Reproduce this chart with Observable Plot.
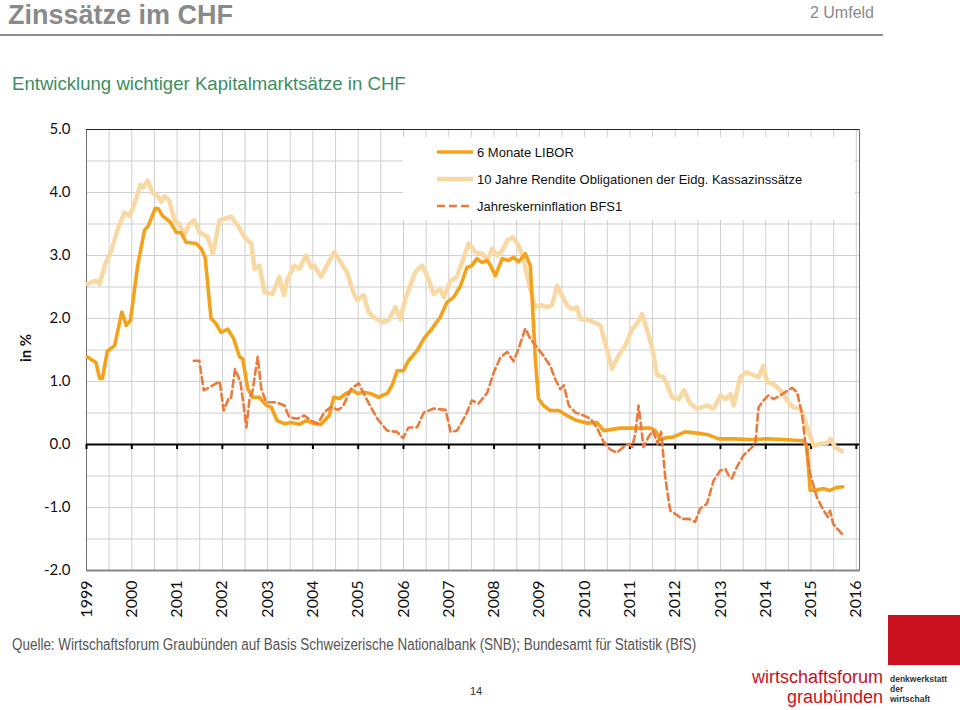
<!DOCTYPE html>
<html><head><meta charset="utf-8">
<script src="https://cdn.jsdelivr.net/npm/d3@7"></script>
<script src="https://cdn.jsdelivr.net/npm/@observablehq/plot@0.6"></script>
<style>
body{margin:0;background:#fff;}
#page{position:relative;width:960px;height:710px;overflow:hidden;font-family:"Liberation Sans",Arial,sans-serif;background:#fff;}
.abs{position:absolute;white-space:nowrap;}
#title{left:8px;top:0px;font-size:27px;line-height:30px;font-weight:bold;color:#8a8a8a;}
#section{right:86px;top:4px;font-size:16px;line-height:18px;color:#8a8a8a;}
#hr{left:0;top:34px;width:883px;height:2px;background:#8f8f8f;}
#subtitle{left:12px;top:72px;font-size:18.6px;line-height:24px;color:#3b8f5f;}
#chart{left:0;top:100px;}
#ylab{left:25px;top:348px;transform:translate(-50%,-50%) rotate(-90deg);font-family:Lato,"Open Sans",sans-serif;font-weight:bold;font-size:15px;color:#111;}
#legend{left:403px;top:137px;width:452px;height:83px;background:#fff;font-size:13px;color:#111;}
.lrow{position:absolute;left:34px;height:20px;display:flex;align-items:center;}
.lrow svg{margin-right:4px;}
#source{left:12px;top:636px;font-size:16px;line-height:18px;color:#555;transform:scaleX(0.84);transform-origin:0 0;}
#pnum{left:470px;top:685px;font-size:11px;color:#333;}
#redbox{left:888px;top:615px;width:72px;height:50px;background:#c8101e;}
#logo{right:77px;top:667px;font-size:18px;line-height:20px;color:#c8101e;text-align:right;}
#logo3{left:890px;top:674px;font-size:8.5px;line-height:10px;color:#333;font-weight:bold;}
</style></head>
<body><div id="page">
<div class="abs" id="title">Zinssätze im CHF</div>
<div class="abs" id="section">2 Umfeld</div>
<div class="abs" id="hr"></div>
<div class="abs" id="subtitle">Entwicklung wichtiger Kapitalmarktsätze in CHF</div>
<div class="abs" id="chart"></div>
<div class="abs" id="ylab">in %</div>
<div class="abs" id="legend"></div>
<div class="abs" id="source">Quelle: Wirtschaftsforum Graubünden auf Basis Schweizerische Nationalbank (SNB); Bundesamt für Statistik (BfS)</div>
<div class="abs" id="pnum">14</div>
<div class="abs" id="redbox"></div>
<div class="abs" id="logo">wirtschaftsforum<br>graubünden</div>
<div class="abs" id="logo3">denkwerkstatt<br>der<br>wirtschaft</div>
</div>
<script>
// ---- Data (decimal years, percent) ----
const seriesNames = ["6 Monate LIBOR", "10 Jahre Rendite Obligationen der Eidg. Kassazinssätze", "Jahreskerninflation BFS1"];

const liborYears = [1999.02,1999.21,1999.29,1999.35,1999.46,1999.62,1999.78,1999.88,1999.97,2000.13,2000.28,2000.37,2000.52,2000.59,2000.68,2000.85,2000.98,2001.09,2001.20,2001.42,2001.53,2001.62,2001.75,2001.86,2001.97,2002.12,2002.25,2002.38,2002.45,2002.56,2002.67,2002.82,2002.97,2003.08,2003.21,2003.37,2003.52,2003.70,2003.85,2004.03,2004.18,2004.36,2004.46,2004.59,2004.73,2004.88,2004.98,2005.12,2005.27,2005.45,2005.64,2005.75,2005.86,2006.00,2006.11,2006.30,2006.45,2006.63,2006.81,2006.96,2007.11,2007.26,2007.40,2007.51,2007.62,2007.74,2007.85,2007.92,2008.03,2008.18,2008.32,2008.43,2008.54,2008.69,2008.80,2008.84,2008.91,2008.98,2009.09,2009.24,2009.43,2009.61,2009.83,2010.05,2010.27,2010.42,2010.79,2011.08,2011.45,2011.56,2011.67,2011.82,2011.96,2012.22,2012.48,2012.70,2012.96,2013.29,2013.66,2014.03,2014.39,2014.83,2014.91,2014.98,2015.13,2015.28,2015.42,2015.57,2015.70];
const liborValues = [1.39,1.30,1.05,1.05,1.48,1.57,2.10,1.89,1.97,2.84,3.40,3.48,3.75,3.74,3.63,3.53,3.37,3.36,3.21,3.19,3.11,2.97,2.00,1.92,1.78,1.83,1.68,1.39,1.36,0.89,0.75,0.75,0.62,0.59,0.38,0.33,0.35,0.32,0.38,0.33,0.32,0.46,0.75,0.73,0.81,0.86,0.81,0.83,0.81,0.75,0.81,0.94,1.17,1.17,1.33,1.49,1.68,1.84,2.02,2.26,2.34,2.52,2.81,2.84,2.95,2.89,2.92,2.84,2.68,2.95,2.92,2.97,2.90,3.03,2.84,2.32,1.37,0.73,0.62,0.54,0.54,0.46,0.38,0.34,0.35,0.22,0.26,0.26,0.26,0.22,0.08,0.11,0.12,0.20,0.18,0.16,0.09,0.09,0.08,0.09,0.08,0.06,-0.04,-0.73,-0.72,-0.70,-0.73,-0.68,-0.67];

const bondYears = [1999.02,1999.21,1999.29,1999.40,1999.55,1999.69,1999.84,1999.95,2000.06,2000.19,2000.26,2000.35,2000.46,2000.57,2000.65,2000.72,2000.83,2000.94,2001.05,2001.16,2001.27,2001.38,2001.49,2001.68,2001.79,2001.94,2002.05,2002.19,2002.34,2002.49,2002.64,2002.71,2002.82,2002.93,2003.11,2003.26,2003.36,2003.44,2003.59,2003.70,2003.85,2003.96,2004.03,2004.18,2004.33,2004.47,2004.66,2004.77,2004.83,2004.90,2004.98,2005.12,2005.23,2005.34,2005.53,2005.67,2005.82,2005.93,2006.04,2006.26,2006.41,2006.52,2006.67,2006.81,2006.89,2007.04,2007.18,2007.29,2007.44,2007.59,2007.74,2007.85,2007.96,2008.07,2008.18,2008.29,2008.42,2008.54,2008.65,2008.73,2008.80,2008.91,2009.06,2009.17,2009.28,2009.39,2009.46,2009.61,2009.72,2009.83,2009.91,2010.05,2010.20,2010.35,2010.49,2010.60,2010.75,2010.90,2011.05,2011.16,2011.27,2011.38,2011.49,2011.60,2011.74,2011.82,2011.93,2012.08,2012.19,2012.33,2012.48,2012.59,2012.70,2012.85,2013.00,2013.11,2013.22,2013.29,2013.44,2013.58,2013.73,2013.84,2013.95,2014.03,2014.17,2014.32,2014.47,2014.61,2014.76,2014.87,2014.94,2015.06,2015.20,2015.35,2015.44,2015.53,2015.68];
const bondValues = [2.55,2.60,2.55,2.84,3.08,3.42,3.68,3.63,3.82,4.12,4.08,4.19,4.00,3.95,3.85,3.94,3.87,3.56,3.50,3.32,3.50,3.56,3.37,3.29,3.03,3.56,3.58,3.62,3.48,3.29,3.19,2.79,2.84,2.42,2.39,2.66,2.37,2.63,2.84,2.79,3.00,2.81,2.84,2.66,2.87,3.05,2.84,2.71,2.55,2.40,2.29,2.37,2.10,2.02,1.94,1.97,2.18,1.99,2.31,2.74,2.84,2.68,2.39,2.47,2.34,2.60,2.66,2.89,3.19,3.05,3.03,2.92,3.11,3.00,3.08,3.24,3.29,3.16,2.95,2.68,2.47,2.18,2.21,2.18,2.21,2.52,2.42,2.21,2.15,2.18,1.99,1.99,1.94,1.89,1.52,1.20,1.41,1.57,1.84,1.92,2.07,1.81,1.54,1.10,1.07,0.96,0.75,0.72,0.86,0.65,0.57,0.59,0.62,0.57,0.78,0.72,0.80,0.62,1.07,1.15,1.10,1.07,1.25,0.99,0.96,0.86,0.70,0.59,0.57,0.38,0.20,-0.02,0.01,0.02,0.09,-0.04,-0.11];

const inflYears = [2001.37,2001.49,2001.59,2001.72,2001.94,2002.03,2002.13,2002.19,2002.28,2002.40,2002.47,2002.53,2002.60,2002.67,2002.78,2002.86,2002.97,2003.19,2003.37,2003.48,2003.66,2003.81,2003.96,2004.11,2004.25,2004.40,2004.55,2004.66,2004.84,2005.01,2005.20,2005.42,2005.64,2005.86,2005.99,2006.11,2006.30,2006.45,2006.67,2006.93,2007.04,2007.18,2007.37,2007.51,2007.66,2007.85,2007.99,2008.14,2008.29,2008.43,2008.54,2008.69,2008.80,2008.95,2009.09,2009.24,2009.35,2009.46,2009.54,2009.65,2009.79,2009.98,2010.13,2010.27,2010.42,2010.57,2010.71,2010.86,2010.97,2011.05,2011.12,2011.19,2011.25,2011.30,2011.41,2011.51,2011.61,2011.69,2011.78,2011.89,2012.00,2012.15,2012.30,2012.44,2012.55,2012.70,2012.85,2013.00,2013.11,2013.18,2013.25,2013.36,2013.51,2013.66,2013.77,2013.84,2013.95,2014.06,2014.17,2014.32,2014.43,2014.58,2014.69,2014.80,2014.87,2014.98,2015.13,2015.28,2015.37,2015.42,2015.49,2015.68];
const inflValues = [1.33,1.33,0.86,0.91,1.00,0.54,0.72,0.72,1.20,0.99,0.62,0.27,0.72,0.86,1.39,0.88,0.67,0.67,0.62,0.43,0.41,0.46,0.38,0.33,0.51,0.60,0.55,0.60,0.88,0.97,0.70,0.41,0.22,0.20,0.10,0.27,0.27,0.51,0.57,0.55,0.20,0.22,0.46,0.70,0.65,0.82,1.14,1.38,1.47,1.32,1.52,1.84,1.68,1.54,1.41,1.25,1.04,0.88,0.94,0.62,0.51,0.46,0.41,0.27,0.04,-0.08,-0.13,-0.04,0.01,-0.04,0.17,0.62,0.27,-0.04,0.12,0.22,0.01,0.20,-0.52,-1.05,-1.10,-1.18,-1.18,-1.23,-1.02,-0.94,-0.57,-0.41,-0.39,-0.49,-0.54,-0.36,-0.17,-0.07,0.01,0.59,0.70,0.78,0.72,0.78,0.83,0.90,0.83,0.49,0.06,-0.47,-0.84,-1.05,-1.15,-1.05,-1.26,-1.42];

const yearTicks = [1999,2000,2001,2002,2003,2004,2005,2006,2007,2008,2009,2010,2011,2012,2013,2014,2015,2016];
const yTicks = [-2,-1,0,1,2,3,4,5];

const colors = {libor: "#f4a21b", bond: "#f8d9a4", infl: "#eb7b3c"};

const toRows = (xs, ys) => xs.map((x, i) => ({year: x, value: ys[i]}));
const libor = toRows(liborYears, liborValues);
const bond = toRows(bondYears, bondValues);
const infl = toRows(inflYears, inflValues);

const halfYears = d3.range(1999, 2016.001, 0.5);
const halfValues = d3.range(-2, 5.001, 0.5);

const chart = Plot.plot({
  width: 960,
  height: 530,
  marginLeft: 86,
  marginRight: 101,
  marginTop: 29,
  marginBottom: 60,
  style: {fontFamily: "Lato, 'Open Sans', sans-serif", fontSize: "15px", color: "#111", background: "transparent"},
  x: {type: "linear", domain: [1999, 2016.07]},
  y: {domain: [-2, 5]},
  marks: [
    Plot.ruleX(halfYears, {stroke: "#cfcfcf", strokeWidth: 1}),
    Plot.ruleY(halfValues, {stroke: "#cfcfcf", strokeWidth: 1}),
    Plot.frame({stroke: "#707070"}),
    Plot.ruleY([5], {stroke: "#222", strokeWidth: 1}),
    Plot.ruleY([-2], {stroke: "#888", strokeWidth: 2}),
    Plot.ruleY([0], {stroke: "#000", strokeWidth: 2}),
    Plot.ruleX(yearTicks, {y1: 0, y2: -0.08, stroke: "#000", strokeWidth: 2}),
    Plot.line(bond, {x: "year", y: "value", stroke: colors.bond, strokeWidth: 4.5, strokeLinejoin: "round"}),
    Plot.line(libor, {x: "year", y: "value", stroke: colors.libor, strokeWidth: 3.6, strokeLinejoin: "round"}),
    Plot.line(infl, {x: "year", y: "value", stroke: colors.infl, strokeWidth: 2.6, strokeDasharray: "7,4"}),
    Plot.axisY(yTicks, {anchor: "left", tickSize: 0, tickPadding: 16, tickFormat: d => d.toFixed(1), label: null}),
    Plot.axisX(yearTicks, {anchor: "bottom", tickSize: 0, tickPadding: 10, tickRotate: -90, tickFormat: d => String(d), label: null, fontSize: 16})
  ]
});
document.getElementById("chart").appendChild(chart);

// Legend
const legend = document.getElementById("legend");
const legendItems = [
  {name: seriesNames[0], color: colors.libor, width: 3.6, dash: null},
  {name: seriesNames[1], color: colors.bond, width: 4.5, dash: null},
  {name: seriesNames[2], color: colors.infl, width: 2.6, dash: "8,4"}
];
const rowTops = [5, 32, 59];
legendItems.forEach((it, i) => {
  const row = document.createElement("div");
  row.className = "lrow";
  row.style.top = rowTops[i] + "px";
  row.innerHTML = `<svg width="36" height="10"><line x1="0" x2="36" y1="5" y2="5" stroke="${it.color}" stroke-width="${it.width}" ${it.dash ? `stroke-dasharray="${it.dash}"` : ""}/></svg><span>${it.name}</span>`;
  legend.appendChild(row);
});
</script>
</body></html>
